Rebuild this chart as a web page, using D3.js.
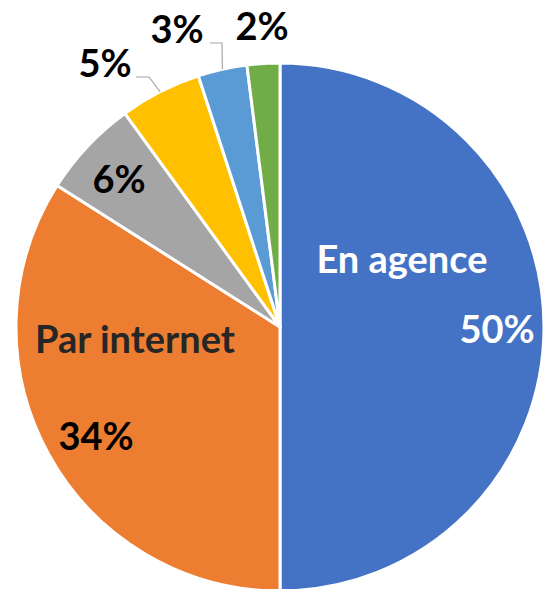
<!DOCTYPE html>
<html>
<head>
<meta charset="utf-8">
<script src="https://cdn.jsdelivr.net/npm/d3@7"></script>
<style>
  html, body { margin: 0; padding: 0; background: #fff; }
  svg { display: block; }
  text { font-family: Lato, "Open Sans", sans-serif; font-weight: 700; }
</style>
</head>
<body>
<svg id="chart" width="544" height="589"></svg>
<script>
// Répartition des canaux (en %)
const categories = ["En agence", "Par internet", "", "", "", ""];
const values = [50, 34, 6, 5, 3, 2];
const colors = ["#4472C4", "#ED7D31", "#A5A5A5", "#FFC000", "#5B9BD5", "#70AD47"];

const width = 544, height = 589;
const cx = 280, cy = 327, radius = 264;

const svg = d3.select("#chart");
const g = svg.append("g").attr("transform", `translate(${cx},${cy})`);

const pie = d3.pie().sort(null).value(d => d.value).startAngle(0).endAngle(2 * Math.PI);
const arc = d3.arc().innerRadius(0).outerRadius(radius);

const data = values.map((v, i) => ({ value: v, name: categories[i], color: colors[i] }));
const arcs = pie(data);

g.selectAll("path.slice")
  .data(arcs)
  .join("path")
  .attr("class", "slice")
  .attr("d", arc)
  .attr("fill", d => d.data.color)
  .attr("stroke", "#fff")
  .attr("stroke-width", 3)
  .attr("stroke-linejoin", "round");

// Point on the outer edge at a slice's mid angle
function edgePoint(d) {
  const a = (d.startAngle + d.endAngle) / 2;
  return [radius * Math.sin(a), -radius * Math.cos(a)];
}

// Label placement, relative to the pie centre (dx, dy = text centre / baseline)
const labelLayout = [
  { name: [122, -54, "#fff"], pct: [217, 16, "#fff"] },
  { name: [-145, 26, "#262626"], pct: [-184, 123, "#000"] },
  { pct: [-161, -134, "#000"] },
  { pct: [-175, -250, "#000"], leader: [[-144, -250], [-131, -250]] },
  { pct: [-103, -284, "#000"], leader: [[-70, -284], [-58, -284]] },
  { pct: [-18, -287, "#000"] }
];

const fontSize = 38;

arcs.forEach((d, i) => {
  const L = labelLayout[i];
  if (L.leader) {
    const pts = L.leader.concat([edgePoint(d)]);
    g.append("path")
      .attr("d", d3.line()(pts))
      .attr("fill", "none")
      .attr("stroke", "#A6A6A6")
      .attr("stroke-width", 1.2);
  }
  if (L.name && d.data.name) {
    g.append("text")
      .attr("x", L.name[0]).attr("y", L.name[1])
      .attr("text-anchor", "middle")
      .attr("font-size", fontSize)
      .attr("fill", L.name[2])
      .text(d.data.name);
  }
  g.append("text")
    .attr("x", L.pct[0]).attr("y", L.pct[1])
    .attr("text-anchor", "middle")
    .attr("font-size", fontSize)
    .attr("fill", L.pct[2])
    .text(d3.format(".0f")(d.data.value) + "%");
});
</script>
</body>
</html>
